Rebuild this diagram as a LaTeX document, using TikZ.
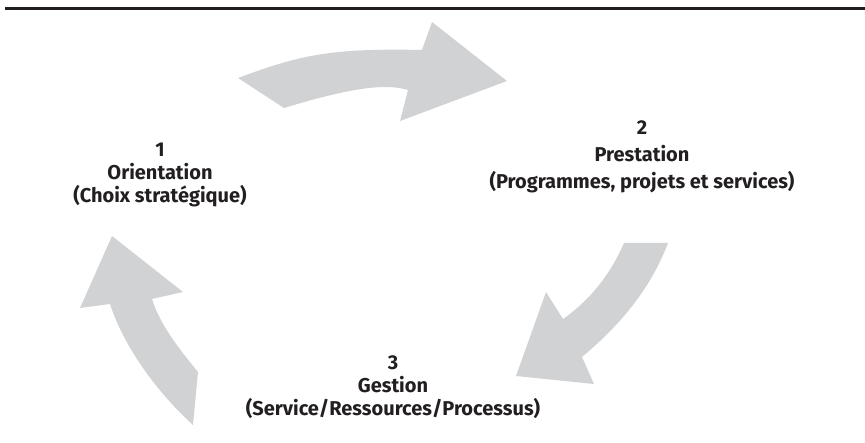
\documentclass[tikz,border=0pt]{standalone}
\usepackage{fontspec}
\setmainfont{Fira Sans}
\begin{document}
\begin{tikzpicture}[x=1pt,y=-1pt,
  cyclearrow/.style={fill=arrowgray,draw=none},
  label/.style={align=center,font=\bfseries\fontsize{20}{23}\selectfont,text=textdark,inner sep=0pt}]
\definecolor{arrowgray}{HTML}{D1D2D4}
\definecolor{textdark}{HTML}{231F20}
\useasboundingbox (0,0) rectangle (865,443);
% top rule
\fill[textdark] (5,7.5) rectangle (865,10);
% arrow 1 -> 2
\path[cyclearrow] (238,78) .. controls (300,55) and (330,48) .. (422,50)
  -- (432,22) -- (507,81) -- (400,121) -- (408,90)
  .. controls (385,83) and (350,88) .. (284,108) -- cycle;
% arrow 2 -> 3
\path[cyclearrow] (624,243) -- (668,243)
  .. controls (650,290) and (620,325) .. (582,357)
  -- (594,384) -- (516,376) -- (546,292) -- (563,319)
  .. controls (590,300) and (610,275) .. (624,243) -- cycle;
% arrow 3 -> 1
\path[cyclearrow] (112,236) -- (183,292) -- (152,299)
  .. controls (160,325) and (180,350) .. (198,372)
  -- (193,425)
  .. controls (160,395) and (125,350) .. (110,304)
  -- (80,308) -- cycle;
% stage labels
\node[label] (orient) at (160,175) {1\\Orientation\\(Choix stratégique)};
\node[label,font=\bfseries\fontsize{20}{27}\selectfont] (prest) at (642,157) {2\\Prestation\\(Programmes, projets et services)};
\node[label] (gest) at (393,387) {3\\Gestion\\(Service/Ressources/Processus)};
\end{tikzpicture}
\end{document}
